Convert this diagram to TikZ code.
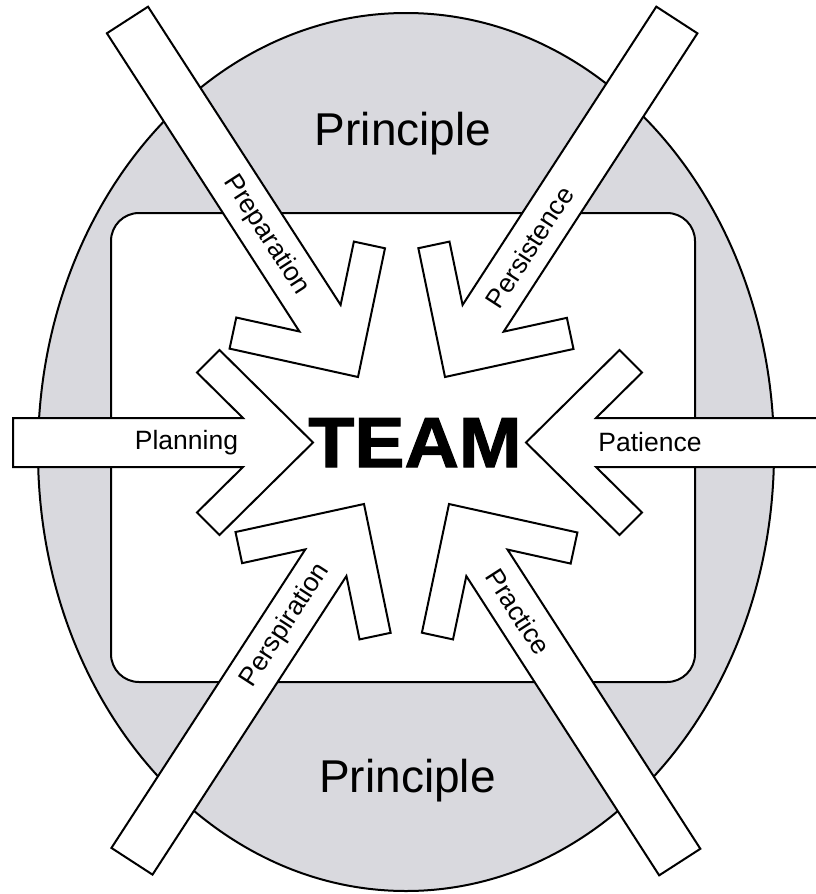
\documentclass[tikz,border=0pt]{standalone}
\usepackage{fontspec}
\setmainfont{Liberation Sans}
\newfontfamily\teamfont{Liberation Sans}[BoldFeatures={FakeBold=1.5}]
\definecolor{ringgray}{RGB}{217,217,222}
\tikzset{
  ring/.style={draw=black, line width=2pt, fill=ringgray},
  panel/.style={draw=black, line width=2pt, fill=white, rounded corners=28pt},
  chevron/.style={draw=black, line width=2pt, fill=white, line join=miter},
  arrowlabel/.style={font=\fontsize{26.5}{30}\selectfont, inner sep=0pt},
  headline/.style={font=\fontsize{46}{52}\selectfont, inner sep=0pt, anchor=base},
  bigword/.style={font=\teamfont\bfseries\fontsize{71}{80}\selectfont, inner sep=0pt, anchor=base},
}
% #1 name, #2 tip, #3 direction, #4 shaft length, #5 label distance from tip,
% #6 label rotation, #7 label text
\newcommand{\placechev}[7]{%
  \begin{scope}[shift={#2}, rotate=#3]
    \draw[chevron] (-#4,-24.5) -- (-70,-24.5) -- (-116,-70) -- (-93.5,-92.5)
      -- (0,0) -- (-93.5,92.5) -- (-116,70) -- (-70,24.5) -- (-#4,24.5) -- cycle;
    \node[arrowlabel, rotate=#6] (#1) at (-#5,0) {#7};
  \end{scope}}
\begin{document}
\begin{tikzpicture}[x=1pt, y=-1pt]
  \useasboundingbox (0,0) rectangle (816,894);
  \clip (0,0) rectangle (816,894);
  % outer ring and inner panel
  \draw[ring] (406,452) ellipse [x radius=368, y radius=439];
  \draw[panel] (111,213) rectangle (695,682);
  % headings on the ring
  \node[headline] (principletop) at (403,145) {Principle};
  \node[headline] (principlebottom) at (407.5,792) {Principle};
  % six converging arrows
  \placechev{planning}{(313,442.5)}{0}{300}{126.5}{0}{Planning}
  \placechev{patience}{(526,442.5)}{180}{330}{124}{0}{Patience}
  \placechev{preparation}{(358,377)}{-57.15}{425}{169}{-57.15}{Preparation}
  \placechev{persistence}{(445,377)}{-123}{425.7}{155}{57}{Persistence}
  \placechev{perspiration}{(364,504)}{57}{426}{144.5}{57}{Perspiration}
  \placechev{practice}{(449,504)}{122.8}{426}{128}{-57.2}{Practice}
  % centre word
  \node[bigword, xscale=1.06] (team) at (415,467) {TEAM};
\end{tikzpicture}
\end{document}
